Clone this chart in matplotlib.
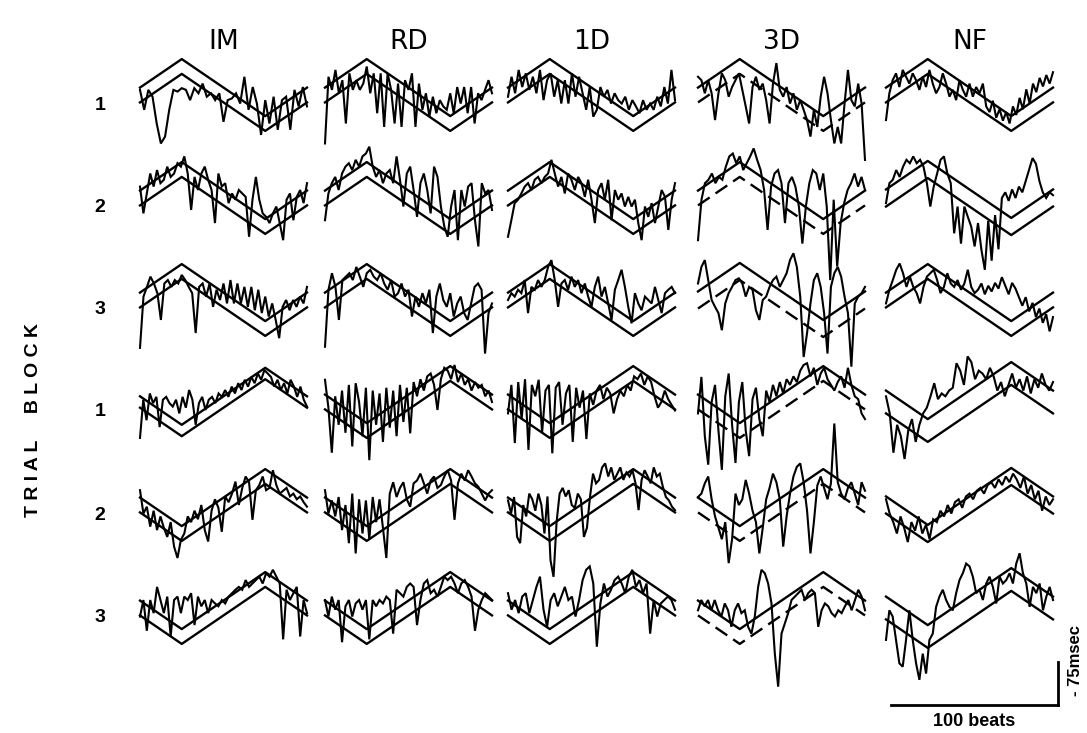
import numpy as np
import matplotlib
matplotlib.use("Agg")
import matplotlib.pyplot as plt

# ---------------- data (IBI deviation, msec; 100 beats per panel) ----------------
conditions = ["IM", "RD", "1D", "3D", "NF"]
block_labels = ["1", "2", "3", "1", "2", "3"]

# target triangle: knots (beat, msec) for upper three blocks and lower three blocks
target_beats = [0, 25, 75, 100]
target_first = [0, 50, -50, 0]
target_second = [0, -50, 50, 0]

# row 1
im_1 = [9, -26, 9, -3, -50, -85, -73, -26, 9, 6, 12, 9, -9, 12, 3, 20, -3, 3, -9, 3, -47, -9, -6, 3, -15, 32, -26, 14, -15, -70, -9, -50, -3, -61, -9, -3, -61, 9, -20, 14, -20]
rd_1 = [-85, 32, 9, 44, 3, 26, -50, 38, 9, 26, 9, 20, 50, 3, 38, -32, 38, -56, 38, 9, -50, 20, -56, 26, 9, 38, -56, 20, -26, 3, -38, -3, -32, -9, -20, -26, 3, -32, 14, -15, 14, -32, 14, -50, 3, -9, 9, 26, 3]
d1_1 = [-3, 32, 3, 44, 14, 38, 9, 32, 3, 44, -9, 26, 38, -3, 26, -15, 26, -15, 38, -3, 32, 3, -26, 14, -38, -26, 14, -3, 9, -15, 3, -9, -15, -3, -26, -9, -20, -32, -9, -26, -15, -26, -3, -20, 14, -15, 44, -9]
d3_1 = [32, 26, 3, 26, 3, -44, 3, 38, 26, -3, 14, 26, 38, 9, -20, -50, 14, 32, 9, 20, -9, -50, 20, 56, 9, -3, 14, -15, 3, -26, -9, -26, -44, -73, -26, -56, -3, 32, 3, -44, -85, -56, -85, -15, 44, -9, -20, 20, -15, -114]
nf_1 = [-44, 3, 26, 38, 14, 44, 32, 20, 38, 26, 9, 32, 14, 44, 20, 3, 14, 38, 20, -3, 9, -9, 26, 9, -3, 20, -3, 14, 3, 20, -20, -30, -10, -40, -25, -45, -30, -50, -20, -35, -5, -25, 10, -15, 20, 5, 30, 15, 35, 20, 40]

# row 2
im_2 = [20, -27, 8, 43, 20, 49, 26, 32, 55, 37, 43, 61, 55, 73, 43, -21, 37, 14, 43, 55, 32, 14, -44, 43, 20, 26, -9, 8, -3, 14, 8, 2, -68, -3, 37, -3, -27, -33, -44, -27, -15, -44, -74, -3, 8, -39, 2, 14, -9, 26]
rd_2 = [-39, 8, 26, 37, 14, 43, 55, 61, 49, 67, 55, 73, 78, 90, 55, 37, 49, 26, 43, 49, 26, 73, 32, -15, 43, 55, 14, -33, 26, 43, 14, -27, 55, 37, -15, -50, -68, -15, 14, -74, 14, -15, 20, 26, -39, -85, 26, 8, 14, -21]
d1_2 = [-68, -39, -9, -3, 8, 20, 26, 14, 32, 37, 26, 37, 43, 67, 43, 20, 37, 8, 43, 32, 14, 37, 26, 2, 32, -3, -44, 14, 26, -3, 32, -39, 14, -3, 8, -15, 2, -15, -3, -44, -74, -15, -33, -9, -44, -15, 14, 2, -56, -3, 26]
d3_2 = [-74, -3, 26, 32, 43, 26, 37, 32, 55, 73, 78, 61, 73, 49, 61, 73, 87, 67, 49, 14, -56, 20, 43, 49, 26, -44, 26, 37, 20, -15, -80, -15, 26, 49, 43, 14, 43, -15, -144, -3, -120, -44, -9, 14, 26, 43, 20, 37, 14]
nf_2 = [-9, 26, 32, 49, 37, 55, 67, 61, 73, 61, 67, 55, 26, -15, 20, 43, 67, 73, 43, 26, -62, -15, -80, -15, -33, -50, -85, -44, -91, -126, -40, -110, -30, -90, 0, 10, -5, 15, 0, 20, 10, 30, 50, 70, 60, 30, 10, 0, 10, 5]

# row 3
im_3 = [-84, 6, 23, 41, 29, 12, -35, 29, 35, 23, 35, 29, 44, 35, 23, 12, -58, 23, 29, 6, 29, -12, 18, 0, 29, -6, 35, -6, 29, -6, 23, -12, 23, -18, 18, -23, 6, -29, -6, -35, -67, -12, 0, -18, 0, -12, 6, -6, 23]
rd_3 = [-82, 18, 47, 23, -35, 35, 41, 47, 35, 58, 41, 23, 47, 53, 41, 35, 47, 29, 18, 35, 6, 12, 29, 6, 18, -29, 6, -12, 12, -6, 18, -58, 6, 29, 0, -12, 12, -29, -6, 6, -23, -35, -6, 23, 29, 18, -94, -23, -6]
d1_3 = [0, 12, 6, 18, 12, 35, -23, 23, 18, 35, 23, 35, 58, 70, 35, -12, 29, 35, 18, 41, 23, 35, 12, 29, 6, -12, 23, 41, 6, 23, -6, -35, 18, 35, 53, 23, -12, -41, 12, -6, -18, 6, 0, -6, 23, 0, -23, 12, 18, 23, 12]
d3_3 = [29, 58, 70, 35, 0, -12, -23, -53, -6, 12, 23, 35, 38, 29, 6, 23, 18, -18, -35, 0, 6, 23, 35, 41, 23, 35, 47, 70, 82, 58, 6, -100, -58, -6, 35, 47, 23, -23, -94, 23, 47, 58, 41, 6, -23, -117, -6, 6, 12, 23]
nf_3 = [-6, 18, 35, 53, 64, 47, 23, 41, 23, 12, -6, 23, 41, 47, 53, 35, 12, 23, 47, 29, 23, 35, 18, 29, 53, 23, 12, 18, 29, 10, 25, 15, 30, 20, 40, 25, 10, 30, 20, 5, -10, 5, -20, -5, -30, -15, -40, -25, -55, -30]

# row 4
im_4 = [-63, 4, -32, 15, -2, 9, -44, 4, 9, -2, -8, 4, -20, 9, -10, 21, 4, -40, -2, 9, -14, 4, 9, -2, 15, 9, 21, 9, 27, 15, 33, 21, 39, 27, 44, 33, 50, 39, 56, 50, 44, 27, 39, 21, 33, 15, 39, 27, 9, 27, 4, -8]
rd_4 = [39, -10, -89, 10, -40, 20, -54, 30, -78, 33, 0, -60, 25, -102, 20, -40, 15, -70, 25, -45, 20, -60, 30, -35, 25, -55, 35, 10, 40, 20, 45, 50, 30, -14, 40, 60, 55, 40, 65, 35, 50, 30, 40, 20, 35, 25, 30, 10, 20, 0]
d1_4 = [-20, 30, -72, 35, -30, 40, -84, 30, 10, 39, -54, 20, 30, -90, 25, 35, -40, 15, 30, -70, 25, -10, 20, -65, 15, -5, 20, 30, 5, 25, 15, -20, 5, 20, 10, 30, 20, 45, 40, 50, 30, 45, 35, 10, -10, 0, 20, 5, -5, -15]
d3_4 = [-20, 44, -60, -110, 0, 30, -50, -119, 10, 50, -40, -107, 0, 35, -50, -95, 5, 25, -30, -60, 20, 0, 30, 10, 35, 15, 40, 30, 45, 35, 55, 65, 68, 45, 60, 30, 50, 60, 40, 30, 20, 35, 45, 25, 60, 30, 10, 5, -20, -30]
nf_4 = [10, -20, -89, -40, -60, -100, -50, -30, -70, -40, -20, -10, 10, 33, 5, 15, 10, 20, 25, 68, 55, 30, 80, 70, 40, 55, 50, 40, 60, 45, 20, 35, 10, 30, 50, 25, 40, 20, 45, 15, 40, 25, 50, 30, 20, 35]

# row 5
im_5 = [26, -15, -3, -38, -10, -44, -20, -40, -56, -30, -73, -93, -61, -50, -20, -30, -10, -25, 0, -44, -64, -10, 10, -5, -47, 15, 5, 20, 41, 0, 30, 50, 40, -26, 26, 35, 50, 26, 30, 61, 35, 20, 25, 30, 15, 20, 10, 15, 5, -3]
rd_5 = [26, -15, 8, -20, 14, -44, 0, -67, 20, -85, 10, -50, 8, -60, 14, -30, 10, -40, -93, 20, 40, 14, 30, 40, 10, -3, 38, 43, 55, 38, 20, 43, 50, 30, 35, 50, 61, 43, -26, 38, 55, 43, 61, 50, 38, 32, 20, 8, 20, 26]
d1_5 = [8, -15, 14, -56, -67, 0, -20, 20, 10, -10, 20, 0, -50, 15, -97, -126, -30, 20, 30, 15, 26, 0, -5, 20, 10, -56, -40, 14, 55, 38, 44, 66, 73, 50, 66, 44, 55, 66, 44, 57, 50, 61, 38, -9, 44, 61, 50, 38, 66, 50, 55, 32, 14, 8, -3, -9]
d3_5 = [14, 20, 38, 50, 10, -20, -40, -60, -30, -102, -60, 20, 0, 10, 44, 20, -10, -30, -85, -40, 10, 30, 55, 40, 10, -73, -20, 20, 50, 67, 73, 40, -10, -85, -30, 34, 50, 30, 10, 38, 143, 40, 20, 10, 30, 40, 20, 0, 40, 25]
nf_5 = [10, -15, -30, -50, -20, -40, -65, -30, -45, -20, -50, -35, -60, -25, -30, -10, -20, 0, -15, 5, 10, -5, 15, 20, 10, 25, 30, 20, 35, 40, 30, 45, 35, 50, 40, 55, 45, 30, 50, 20, 35, 10, 25, -10, 15, 0, 10]

# row 6
im_6 = [-15, 14, -40, 14, -9, 37, 14, -9, 20, -50, 14, 20, -9, 20, 14, 26, -30, 20, 3, 14, -9, 14, 8, 3, 14, 8, 20, 26, 32, 37, 32, 49, 37, 43, 49, 55, 43, 61, 55, 67, 55, 43, -55, 32, 14, 26, 37, -50, 14, -9]
rd_6 = [14, -15, 20, -3, 14, -60, 3, 14, -15, 8, 14, -3, 14, -55, 14, 3, 14, 8, 20, 14, -45, 32, 26, 20, 37, 43, 37, -30, 14, 43, 49, 26, 32, 20, 37, 55, 49, 55, 43, 26, 43, 49, 37, 20, -40, -3, 14, 26, 20, 14]
d1_6 = [26, -3, 14, -9, 20, 26, -9, 14, 37, 55, -3, -33, 14, 26, 3, 20, 37, 14, 20, -15, 14, 49, 67, 73, 43, -68, 8, 43, 20, 32, 49, 55, 43, 26, 55, 67, 37, 49, 26, 43, -45, 14, -15, 8, 14, 20, 14, -3]
d3_6 = [-4, 14, 3, 14, -4, 14, -4, -15, 8, -4, -33, -4, 8, -9, -4, -33, -45, -15, 37, 67, 61, 43, 8, -80, -138, -45, -27, -9, 14, 20, 26, 32, 14, 26, 32, 26, -33, -4, 8, 3, -9, -15, -4, -9, 3, 14, -4, 14, 32, 20, -4]
nf_6 = [-56, -4, -15, -56, -97, -103, -56, -4, -56, -97, -126, -80, -115, -56, -45, 2, 20, 32, 14, 2, -4, 26, 49, 61, 78, 73, 55, 26, 32, 14, 43, 55, 37, 8, 55, 43, 49, 61, 43, 78, 96, 61, 43, 2, 37, 26, 43, -4, 20, 37, 14]

traces = [
    [im_1, rd_1, d1_1, d3_1, nf_1],
    [im_2, rd_2, d1_2, d3_2, nf_2],
    [im_3, rd_3, d1_3, d3_3, nf_3],
    [im_4, rd_4, d1_4, d3_4, nf_4],
    [im_5, rd_5, d1_5, d3_5, nf_5],
    [im_6, rd_6, d1_6, d3_6, nf_6],
]
# half-width of the target band (msec)
band_half = [
    [13, 13, 13, 13, 13],
    [13, 13, 13, 13, 15],
    [13, 13, 13, 15, 13],
    [10, 13, 13, 13, 20],
    [13, 13, 13, 13, 15],
    [13, 13, 13, 13, 20],
]

scale_beats = 100
scale_msec = 75

# ---------------- layout (pixels) ----------------
W, H = 1087, 733
col_x0 = [140, 325, 508, 698, 886]
row_base = [95, 198, 300, 402, 505, 608]
panel_w = 167
px_per_msec = 0.57
half_h = 160  # px above/below baseline covered by each panel axes

fig = plt.figure(figsize=(W / 100, H / 100), dpi=100)
fig.patch.set_facecolor("white")


def panel_axes(x0, base):
    ax = fig.add_axes([x0 / W, (H - base - half_h) / H, panel_w / W, 2 * half_h / H])
    ax.set_xlim(0, 100)
    lim = half_h / px_per_msec
    ax.set_ylim(-lim, lim)
    ax.axis("off")
    return ax


for r in range(6):
    tgt = target_first if r < 3 else target_second
    for c in range(5):
        ax = panel_axes(col_x0[c], row_base[r])
        hb = band_half[r][c]
        upper = [v + hb for v in tgt]
        lower = [v - hb for v in tgt]
        ls_low = (0, (6, 3)) if c == 3 else "-"
        ax.plot(target_beats, upper, color="black", lw=1.7, clip_on=False)
        ax.plot(target_beats, lower, color="black", lw=1.7, ls=ls_low, clip_on=False)
        vals = traces[r][c]
        x = np.linspace(0, 100, len(vals))
        ax.plot(x, vals, color="black", lw=1.5, clip_on=False, solid_joinstyle="miter")

# column headers
col_font = ["Liberation Sans Narrow", "DejaVu Sans"]
for c, name in enumerate(conditions):
    fig.text((col_x0[c] + panel_w / 2) / W, 1 - 42 / H, name, ha="center", va="center",
             fontsize=19, family=col_font)

# row labels
for r, lab in enumerate(block_labels):
    fig.text(100 / W, 1 - (row_base[r] + 10) / H, lab, ha="center", va="center",
             fontsize=14, fontweight="bold", family=["Liberation Sans", "DejaVu Sans"])

fig.text(34 / W, 1 - 420 / H, "T R I A L     B L O C K", rotation=90, ha="center", va="center",
         fontsize=14, fontweight="bold", family=["Liberation Sans", "DejaVu Sans"])

# scale bar
sax = panel_axes(col_x0[4] + 5, 705)
sax.plot([0, scale_beats], [0, 0], color="black", lw=2, clip_on=False)
sax.plot([scale_beats, scale_beats], [0, scale_msec], color="black", lw=2, clip_on=False)
fig.text((col_x0[4] + 5 + panel_w / 2) / W, 1 - 722 / H, "100 beats", ha="center", va="center",
         fontsize=13, fontweight="bold", family=["Liberation Sans", "DejaVu Sans"])
fig.text(1075 / W, 1 - 660 / H, "- 75msec", rotation=90, ha="center", va="center",
         fontsize=12, fontweight="bold", family=["Liberation Sans", "DejaVu Sans"])

fig.savefig("out.png", dpi=100, facecolor="white")
